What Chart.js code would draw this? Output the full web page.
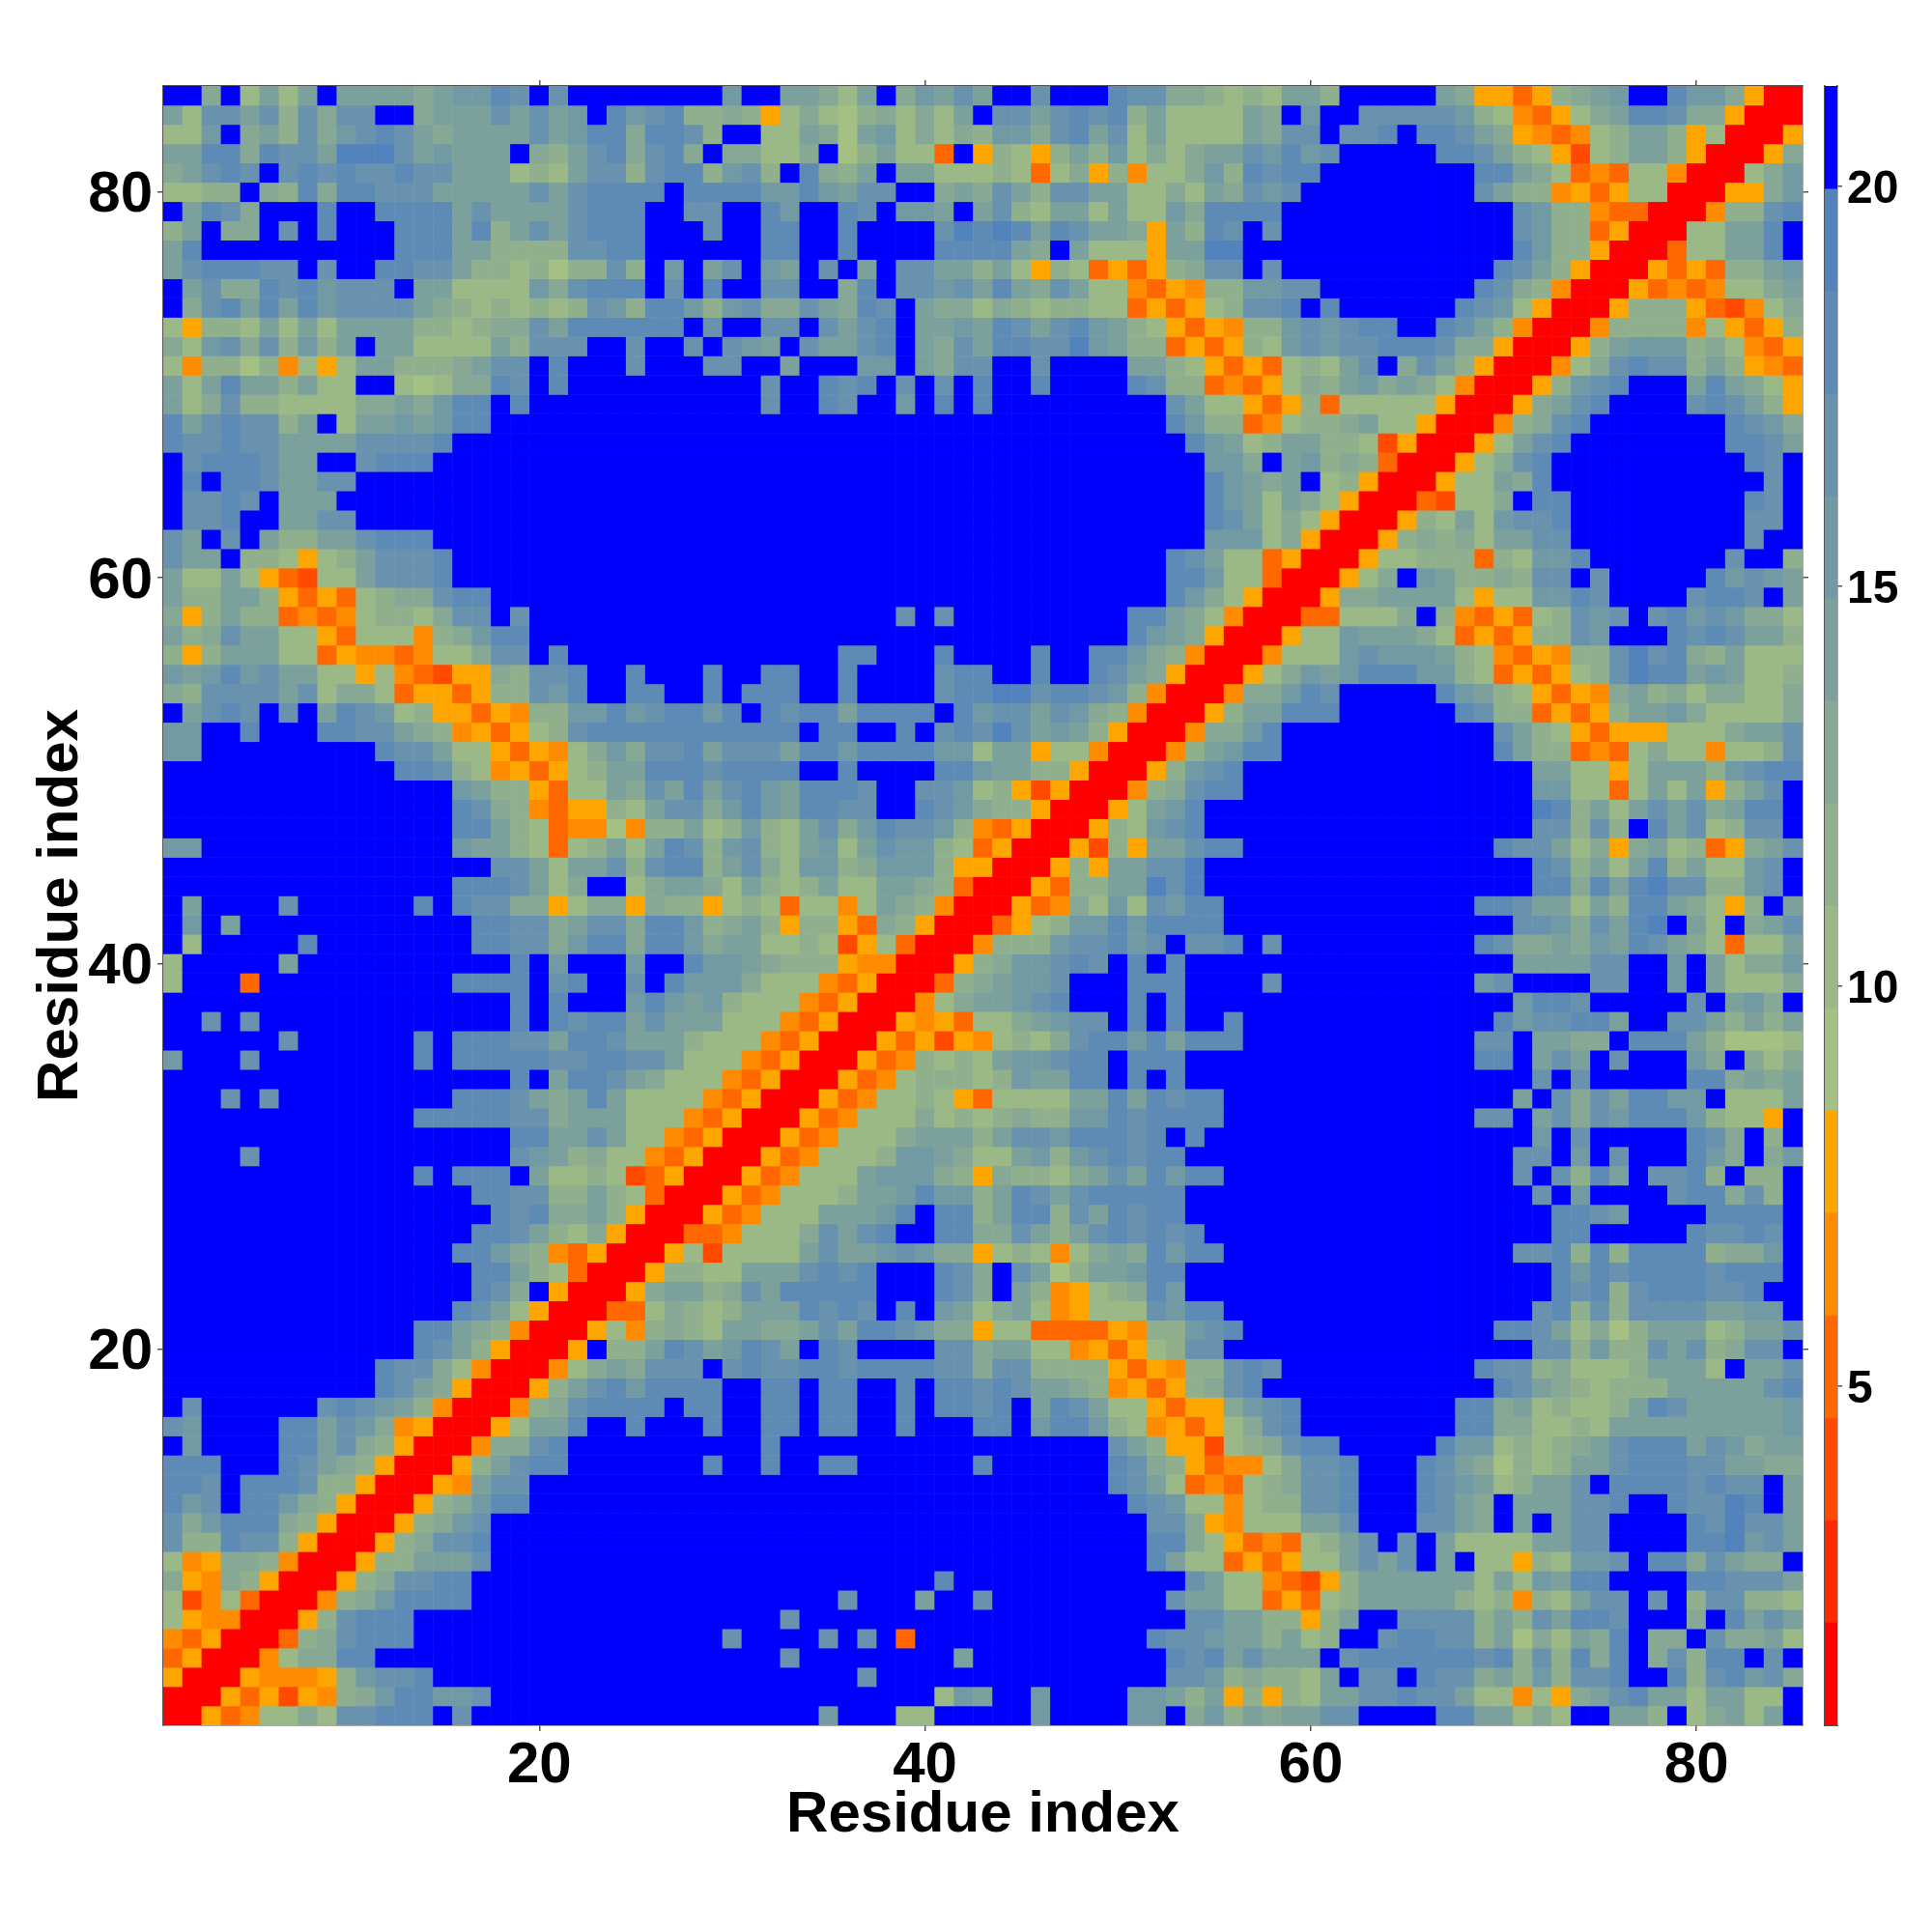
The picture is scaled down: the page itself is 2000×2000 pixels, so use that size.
<!DOCTYPE html>
<html>
<head>
<meta charset="utf-8">
<title>Residue distance map</title>
<script src="https://cdn.jsdelivr.net/npm/chart.js@4"></script>
<style>
  html, body { margin: 0; padding: 0; background: #fff; }
  #wrap { position: relative; width: 2000px; height: 2000px; }
  canvas { position: absolute; top: 0; }
  #map { left: 0; }
  #bar { left: 1880px; }
</style>
</head>
<body>
<div id="wrap">
  <canvas id="map" width="2000" height="2000"></canvas>
  <canvas id="bar" width="120" height="2000"></canvas>
</div>
<script>
// tick labels
const axisTicks = [20, 40, 60, 80];
const barTicks = [5, 10, 15, 20];
const axisTitle = 'Residue index';

// colour classes of the bar, low to high
const levelEdges = [0.76, 2.04, 3.32, 4.6, 5.88, 7.16, 8.44, 9.72, 11, 12.28, 13.56, 14.84, 16.12, 17.4, 18.68, 19.96, 21.25];
const levelColors = ['#ff0000', '#ff2a00', '#ff4a00', '#ff6800', '#ff8c00', '#ffa500', '#a5c083', '#9bb887',
  '#90b08d', '#86a894', '#7ca09c', '#729aa5', '#6892ae', '#5e8bb6', '#5383bd', '#0000ff'];

// distance class, one string per residue 1..85, holding
// its pairs with residues 1..itself (the map is symmetric). Hex digit = class,
// groups are residues 1-28, 29-57, 58-85, trailing f (far) left out
const distanceRows = [
  "0",
  "00",
  "500",
  "3500",
  "43500",
  "754400",
  "7247300",
  "95498500",
  "745998400",
  "c88dcc8500",
  "c9bddd98500",
  "dbcfddb98500",
  "ddcfdddc88500",
  "dddfffdca98500",
  "fbffffddac98500",
  "cbffffddacb94500",
  "fcffffffcdcba8400",
  "fffffffffffdca9500",
  "fffffffffffdcc97400",
  "fffffffffffffdca8500",
  "fffffffffffffdda98400",
  "fffffffffffffffdca7500",
  "ffffffffffffffffdc9f500",
  "ffffffffffffffffdda87300",
  "fffffffffffffffddb9843500",
  "ffffffffffffffffddca879500",
  "fffffffffffffffffdcd99a8500",
  "ffffffffffffffffddcc88a87300",
  "fffffffffffffdfdddfa77872350 0",
  "ffffcfffffffffffffcba8977435 00",
  "ffffffffffffffffffddaaca7743 500",
  "fffffffffffffdddddcc9aaa7774 3500",
  "fffcfcfffffffffdddca9ada7777 43500",
  "ffffffffffffffffffdfaddca977 743500",
  "bfffcffffffffdfdddddccddcca7 7743500",
  "ffffffcffffffdfdddccaddcaaa8 77743500",
  "ffcfcfffffffffffffdfdcddacaa a77743500",
  "ffffffffffffffffffdfdfffbdba b877743500",
  "7fff3ffffffffffddddfcdffcfdb bb977743500",
  "7fffffafffffffffffdfbfffbffd bba988854400",
  "f7fffffdffffffffddcc9bdd9ddb 9aa7787257300",
  "fbfaffffffffffffddcc9acc9ddb 89a85885398500",
  "faffffcffffffdfdcc9957995988 578737747a98400",
  "fffffffffffffffdddca79ff79aa 97a878a77aa98300",
  "fffffffffffffffffcca7aac8cdd 8ac97bb89bbb85500",
  "bbfffffffffffffbaa87378a7adc 8bc87ab7acbb873500",
  "fffffffffffffffdda873446488a 78b87ac9bdccb843500",
  "fffffffffffffffdc98435587acc 9bdbaddccffdcb988500",
  "fffffffffffffffba885377a9cad acdbadddcffccb7852500",
  "ffffffffffffddc87453578aaddd cddddffdffffddbaa88500",
  "bbfffffffffdcca77535479b9ccd acccaddbddddbb7aa577400",
  "bbffdfffddcca98453578cdddddd dddddfddffdfcdcecaba8500",
  "facdcfcfadcb785535488bbdbcdd bdfdcddaddddfdbccacb98400",
  "98ccccac79973553588cbdffddff dfdddffdffffcddeecddcb8400",
  "babdbcaa77574325598ccdffdfff dffddffdffffcddffdffdca9500",
  "858aaa77354434779ccfd fffffffddfffdffffdffddb98400",
  "a89caa7753777489bdd ffffffffffffffffffffffdba9500",
  "958a88343478879ccfc ffffffffffcfcfffffffffdda9740 0",
  "a88aa853537899cdd ffffffffffffffffffffffffdb975 00",
  "a77a753277acccd ffffffffffffffffffffffffddb77 300",
  "caaf887578acccd ffffffffffffffffffffffffdca77 3500",
  "cafcfa88aacddd ffffffffffffffffffffffffffbbb 79500",
  "fccdffaacc ffffffffffffffffffffffffffdca 797500",
  "fccdcfaaa ffffffffffffffffffffffffffdba 7a97500",
  "fdfddcaacc ffffffffffffffffffffffffffdba 9af78500",
  "fcdddcaaffcddd ffffffffffffffffffffffffffbb9 fab898300",
  "dccdccaaaaccccd fffffffffffffffffffffffffdba7 8aa8872500",
  "dacdcc8af7aababdd ffffffffffffffffffffffffdb883 47889a77500",
  "a79c88777799a9bddfd fffcffdcffbfdfdfffffffffca775 358377777500",
  "a7adaa8a77ff76799dcfd fffcffdcdfcfcfdffdffffdc88343 5798ab9a97400",
  "7488684757aa8889accfdfffcfff ccffafffbbfa9ccffcffffaa87535 3787acf9ca8500",
  "97bc9c8b8afaa7777a8cccffcffc fcbafcaacdfa9caddcceba8835358 7bcbccdddc99500",
  "75887a7a7aaaa887899caddddddf cffccfcacdfaabadcacdba8753548 8bcbcddffdca8400",
  "f9cdadadbcccca98787878cb8ddb 8bc99ca9dcfa9979878877353578c cdfdffffffdcb7500",
  "fac99dcdbcccfaa7777b9cdddfcf dffccff9dfccbcada9ca77435488b bccffffffffdc98400",
  "acdddccfcffddcca8878688c8fbf acfbafcfafccaa8a7587353589ccf cfffffffffffdca8500",
  "adffffffffffdddaa8888ccddfff fffddffdffffdddda9fa7775aaeef fffffffffffffdb88500",
  "8af99fcfdfffdddad8acacdddfff cffddffdffffcededadcaa95a8dcf cffffffffffffcb883500",
  "fadc9fffdffddddacaaaacdddffc cffdbffdcfbbafac87aa7a77b9ddd dffffffffffffcb8843300",
  "7788f98d9ddcccaaaaacacddddfd dddbbdbaccff9a9ca8ccaa7797a9c bcfffffffffca8845357700",
  "9acdcfcdcdccdccaaa787acc8cdd 8bc8fd98afaa77787379584779b8d cddffffffffdda9734377400",
  "aadd9dccaeeecabaaaf98acd9cd9 f99779f68a773f58758a8b7979aac bdbcfffffddca875278aa8500",
  "77bf9a8c9bcdca9aaaacabdd9ddc 8ff77a96ab79798bb9cdac7a7777a 9ccfccdfddca9543478aa85700",
  "a7ccac8c9ccff9aaacacabfdbcd8 8985797689797afccacdcd8a7777a 9fbffcccccb8743579addc99500",
  "ff9f7a7afaaaa9abbdcfcfffffff fbffaa97af9bacaffcfffdcc99878 7aa8fffffa9553589abffdbb9500"
];

const groupSizes = [28, 29, 28];
const plotLeft = 169, plotTop = 89, plotRight = 1866, plotBottom = 1786;
// slightly oversize so neighbouring squares leave no seams
const cellRadius = (plotRight - plotLeft) / 85 / Math.SQRT2 + 0.4;

function rowLevels(text, residue) {
  return text.split(' ').map(function(g, i) {
    return g.padEnd(groupSizes[i], 'f');
  }).join('').slice(0, residue);
}
const rowCells = distanceRows.map(function(t, i) { return rowLevels(t, i + 1); });

const points = [];
for (let y = 1; y <= 85; y++) {
  for (let x = 1; x <= 85; x++) {
    const ch = x <= y ? rowCells[y - 1][x - 1] : rowCells[x - 1][y - 1];
    points.push({ x: x, y: y, level: parseInt(ch, 16) });
  }
}

const boldFont = function(size) {
  return { family: '"Liberation Sans", Arial, sans-serif', weight: 'bold', size: size, lineHeight: 1 };
};
const edgeColor = '#555555';

function fixedTicks(scale) {
  scale.ticks = axisTicks.map(function(v) { return { value: v }; });
}
function cellAxis(position, fit, labelled) {
  const axis = {
    type: 'linear',
    position: position,
    min: 0.5,
    max: 85.5,
    afterBuildTicks: fixedTicks,
    afterFit: fit,
    border: { display: true, color: edgeColor, width: 1.5 },
    grid: { drawOnChartArea: false, drawTicks: true, tickLength: 6, color: edgeColor, lineWidth: 1.5 },
    ticks: { color: '#000', font: boldFont(60), maxRotation: 0, autoSkip: false, padding: 6 }
  };
  if (!labelled) {
    axis.ticks.callback = function() { return ''; };
    axis.ticks.font = boldFont(1);
    axis.ticks.padding = 0;
  }
  return axis;
}

const xAxis = cellAxis('bottom', function(s) { s.height = 2000 - plotBottom; }, true);
xAxis.title = { display: true, text: axisTitle, color: '#000', font: boldFont(60), padding: { top: 0, bottom: 91 } };
const yAxis = cellAxis('left', function(s) { s.width = plotLeft; }, true);
yAxis.ticks.padding = 5;
yAxis.ticks.labelOffset = 4;
yAxis.title = { display: true, text: axisTitle, color: '#000', font: boldFont(60), padding: { top: 33, bottom: 0 } };

new Chart(document.getElementById('map'), {
  type: 'scatter',
  data: {
    datasets: [{
      data: points,
      pointStyle: 'rect',
      pointRadius: cellRadius,
      pointBorderWidth: 0,
      pointBackgroundColor: function(ctx) {
        return ctx.raw ? levelColors[ctx.raw.level] : levelColors[15];
      }
    }]
  },
  options: {
    responsive: false,
    animation: false,
    events: [],
    layout: { padding: 0 },
    plugins: { legend: { display: false }, tooltip: { enabled: false } },
    scales: {
      x: xAxis,
      y: yAxis,
      xTop: cellAxis('top', function(s) { s.height = plotTop; }, false),
      yRight: cellAxis('right', function(s) { s.width = 2000 - plotRight; }, false)
    }
  }
});

// colour bar
const barSets = levelColors.map(function(c, i) {
  return {
    data: [[levelEdges[i], levelEdges[i + 1]]],
    backgroundColor: c,
    borderWidth: 0,
    borderSkipped: false,
    barPercentage: 1,
    categoryPercentage: 1
  };
});

new Chart(document.getElementById('bar'), {
  type: 'bar',
  data: { labels: ['distance'], datasets: barSets },
  options: {
    responsive: false,
    animation: false,
    events: [],
    layout: { padding: 0 },
    plugins: { legend: { display: false }, tooltip: { enabled: false } },
    scales: {
      x: {
        stacked: true,
        display: true,
        afterFit: function(s) { s.height = 2000 - plotBottom; },
        grid: { display: false },
        border: { display: true, color: edgeColor },
        ticks: { display: false }
      },
      y: {
        position: 'right',
        min: levelEdges[0],
        max: levelEdges[16],
        afterBuildTicks: function(s) { s.ticks = barTicks.map(function(v) { return { value: v }; }); },
        afterFit: function(s) { s.width = 98; },
        border: { display: true, color: edgeColor, width: 1.5 },
        grid: { drawOnChartArea: false, drawTicks: true, tickLength: 5, color: edgeColor, lineWidth: 1.5 },
        ticks: { color: '#000', font: boldFont(48), padding: 5, autoSkip: false, labelOffset: 4 }
      },
      yLeft: {
        position: 'left',
        min: levelEdges[0],
        max: levelEdges[16],
        afterFit: function(s) { s.width = 9; },
        border: { display: true, color: edgeColor, width: 1.5 },
        grid: { display: false },
        ticks: { display: false }
      },
      xTop: {
        position: 'top',
        afterFit: function(s) { s.height = plotTop; },
        grid: { display: false },
        border: { display: true, color: edgeColor },
        ticks: { display: false }
      }
    }
  }
});
</script>
</body>
</html>
